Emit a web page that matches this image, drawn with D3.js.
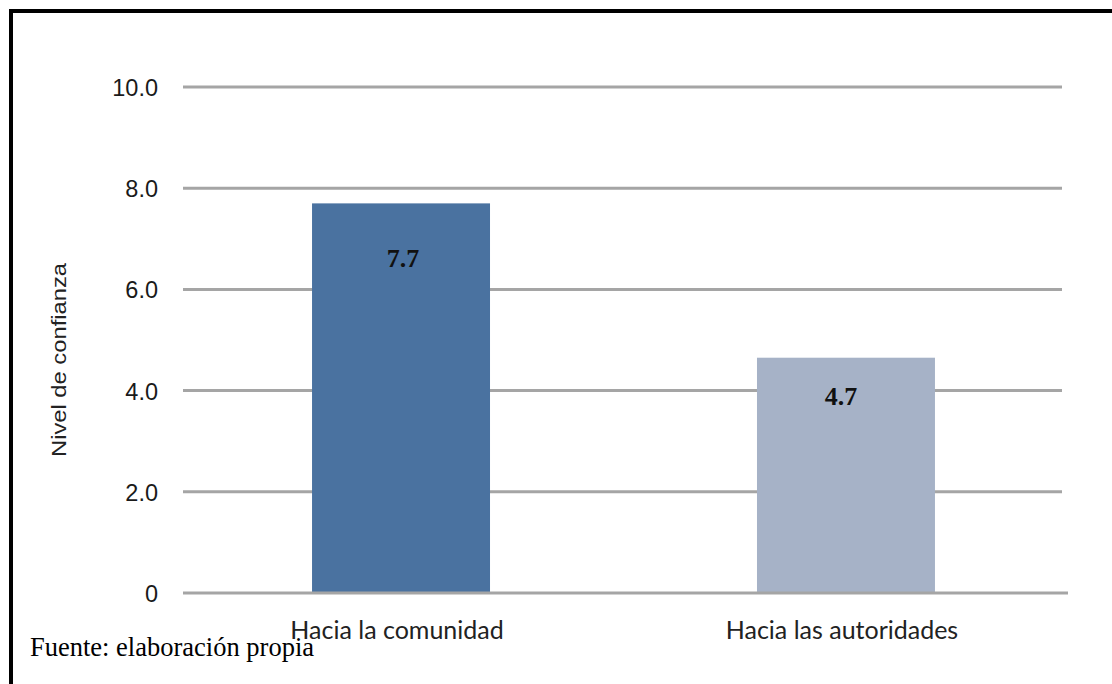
<!DOCTYPE html>
<html>
<head>
<meta charset="utf-8">
<script src="https://cdn.jsdelivr.net/npm/d3@7"></script>
<style>
  html, body { margin: 0; padding: 0; background: #fff; }
  svg { display: block; }
</style>
</head>
<body>
<svg id="chart" width="1112" height="684"></svg>
<script>
// ---- data ----
const categories = ["Hacia la comunidad", "Hacia las autoridades"];
const values = [7.7, 4.65];
const valueLabels = ["7.7", "4.7"];
const yTicks = [0, 2, 4, 6, 8, 10];
const yTickLabels = ["0", "2.0", "4.0", "6.0", "8.0", "10.0"];
const yTitle = "Nivel de confianza";
const sourceNote = "Fuente: elaboración propia";

// ---- layout / style ----
const W = 1112, H = 684;
const barColors = ["#4a72a0", "#a6b2c7"];
const gridColor = "#a5a5a5";

const svg = d3.select("#chart");
svg.append("rect").attr("width", W).attr("height", H).attr("fill", "#fff");

const x = d3.scaleBand().domain(categories).range([183, 1064])
  .paddingInner(0.6).paddingOuter(0.29);
const y = d3.scaleLinear().domain([0, 10]).range([593, 87]);

// gridlines (except baseline)
svg.append("g").selectAll("line").data(yTicks.filter(t => t !== 0)).join("line")
  .attr("x1", 183).attr("x2", 1062)
  .attr("y1", d => y(d)).attr("y2", d => y(d))
  .attr("stroke", gridColor).attr("stroke-width", 3);

// y axis tick labels
const yAxis = d3.axisLeft(y).tickValues(yTicks)
  .tickFormat((d, i) => yTickLabels[i]).tickSize(0).tickPadding(0);
const gy = svg.append("g").attr("transform", "translate(158,0)").call(yAxis);
gy.select(".domain").remove();
gy.selectAll("text")
  .attr("font-family", "'Liberation Sans', Arial, sans-serif")
  .attr("font-size", 23.5).attr("fill", "#1a1a1a").attr("dy", "0.36em");

// bars
svg.append("g").selectAll("rect").data(values).join("rect")
  .attr("x", (d, i) => x(categories[i]))
  .attr("width", x.bandwidth())
  .attr("y", d => y(d))
  .attr("height", d => y(0) - y(d))
  .attr("fill", (d, i) => barColors[i]);

// baseline
svg.append("line").attr("x1", 183).attr("x2", 1068)
  .attr("y1", y(0)).attr("y2", y(0))
  .attr("stroke", gridColor).attr("stroke-width", 3);

// value labels
const labelDy = [64, 47];
svg.append("g").selectAll("text").data(values).join("text")
  .attr("x", (d, i) => x(categories[i]) + x.bandwidth() / 2 + (i === 0 ? 2 : -5))
  .attr("y", (d, i) => y(d) + labelDy[i])
  .attr("text-anchor", "middle")
  .attr("font-family", "'Liberation Serif', 'Times New Roman', serif")
  .attr("font-weight", "bold").attr("font-size", 26).attr("fill", "#111")
  .text((d, i) => valueLabels[i]);

// category labels
const xAxis = d3.axisBottom(x).tickSize(0).tickPadding(0);
const gx = svg.append("g").attr("transform", `translate(-4,${y(0)})`).call(xAxis);
gx.select(".domain").remove();
gx.selectAll("text")
  .attr("dy", null).attr("y", 46)
  .attr("font-family", "Lato, 'Open Sans', sans-serif")
  .attr("font-size", 25).attr("fill", "#222");

// y title
svg.append("text")
  .attr("transform", "translate(66,360) rotate(-90)")
  .attr("text-anchor", "middle")
  .attr("font-family", "'Liberation Sans', Arial, sans-serif")
  .attr("font-size", 21).attr("fill", "#222")
  .attr("textLength", 194).attr("lengthAdjust", "spacingAndGlyphs")
  .text(yTitle);

// source note
svg.append("text").attr("x", 30).attr("y", 656)
  .attr("font-family", "'Liberation Serif', 'Times New Roman', serif")
  .attr("font-size", 26.5).attr("fill", "#000")
  .text(sourceNote);

// frame: top and left borders
svg.append("line").attr("x1", 9).attr("x2", W).attr("y1", 11).attr("y2", 11)
  .attr("stroke", "#000").attr("stroke-width", 4);
svg.append("line").attr("x1", 11).attr("x2", 11).attr("y1", 9).attr("y2", H)
  .attr("stroke", "#000").attr("stroke-width", 4);
</script>
</body>
</html>
